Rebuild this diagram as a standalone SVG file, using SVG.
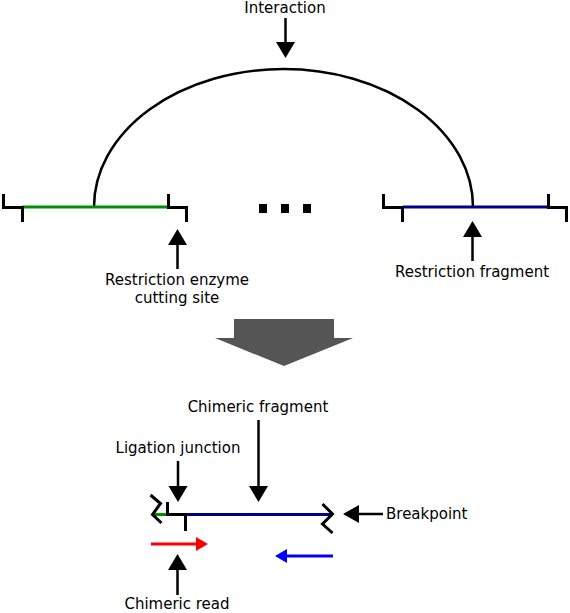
<svg xmlns="http://www.w3.org/2000/svg" width="570" height="613" viewBox="0 0 570 613">
<style>
text{font-family:"DejaVu Sans",sans-serif;font-size:15px;fill:#000;text-anchor:middle}
.k{stroke:#000;stroke-width:2.5;fill:none}
.b{stroke:#000;stroke-width:3;fill:none}
.tri{fill:#000}
</style>
<rect width="570" height="613" fill="#fff"/>
<g id="interaction">
<path class="k" d="M94,207 A189.5,138 0 0 1 473,207"/>
<line class="k" x1="285.5" y1="18" x2="285.5" y2="43"/>
<polygon class="tri" points="276,42 295,42 285.5,58"/>
<text x="285" y="13">Interaction</text>
</g>
<g id="fragment-left">
<line x1="22" y1="207" x2="168" y2="207" stroke="#009000" stroke-width="3"/>
<path class="b" d="M3.5,194 V207.5 H22.5 V222"/>
<path class="b" d="M168.5,194 V207.5 H186.5 V222"/>
</g>
<g id="dots">
<rect x="259" y="204" width="8" height="9"/>
<rect x="281" y="204" width="8" height="9"/>
<rect x="303" y="204" width="8" height="9"/>
</g>
<g id="fragment-right">
<line x1="403" y1="207" x2="548" y2="207" stroke="#000090" stroke-width="3"/>
<path class="b" d="M383.5,194 V207.5 H402.5 V222"/>
<path class="b" d="M548.5,194 V207.5 H566.5 V222"/>
</g>
<g id="cutting-site">
<polygon class="tri" points="177.5,229 168,245 187,245"/>
<line class="k" x1="177.5" y1="244" x2="177.5" y2="269"/>
<text x="177" y="285">Restriction enzyme</text>
<text x="177" y="303">cutting site</text>
</g>
<g id="restriction-fragment">
<polygon class="tri" points="472.5,221 463,237 482,237"/>
<line class="k" x1="472.5" y1="236" x2="472.5" y2="261"/>
<text x="472" y="277">Restriction fragment</text>
</g>
<g id="big-arrow">
<polygon fill="#555555" points="234,319 334,319 334,338 353,338 284,366 215,338 234,338"/>
</g>
<g id="chimeric-fragment">
<line x1="152" y1="514.5" x2="168" y2="514.5" stroke="#009000" stroke-width="3"/>
<line x1="185" y1="514.5" x2="242" y2="514.5" stroke="#00007a" stroke-width="3"/>
<line x1="242" y1="514.5" x2="333" y2="514.5" stroke="#000090" stroke-width="3"/>
<path class="b" d="M167.5,502 V514.5 H185.5 V531"/>
<polyline class="b" points="150.5,495 160.5,503.5 152.5,514.5 161.5,523"/>
<polyline class="b" points="322.5,504 332.5,514 322.5,524 332.5,533"/>
<line class="k" x1="258.5" y1="420" x2="258.5" y2="487"/>
<polygon class="tri" points="249,486 268,486 258.5,502"/>
<text x="258" y="412">Chimeric fragment</text>
</g>
<g id="ligation-junction">
<line class="k" x1="178" y1="461" x2="178" y2="487"/>
<polygon class="tri" points="168.5,486 187.5,486 178,502"/>
<text x="178" y="453">Ligation junction</text>
</g>
<g id="breakpoint">
<polygon class="tri" points="343,514 359,505 359,523"/>
<line class="k" x1="358" y1="514" x2="383" y2="514"/>
<text x="386" y="519" style="text-anchor:start">Breakpoint</text>
</g>
<g id="reads">
<line x1="151" y1="544" x2="198" y2="544" stroke="#ff0000" stroke-width="3"/>
<polygon fill="#ff0000" points="196,537 208,544 196,551"/>
<line x1="286" y1="556" x2="333" y2="556" stroke="#0000ff" stroke-width="3"/>
<polygon fill="#0000ff" points="287,549 275,556 287,563"/>
</g>
<g id="chimeric-read">
<polygon class="tri" points="177.5,554 168,570 187,570"/>
<line class="k" x1="177.5" y1="569" x2="177.5" y2="595"/>
<text x="177" y="609">Chimeric read</text>
</g>
</svg>
